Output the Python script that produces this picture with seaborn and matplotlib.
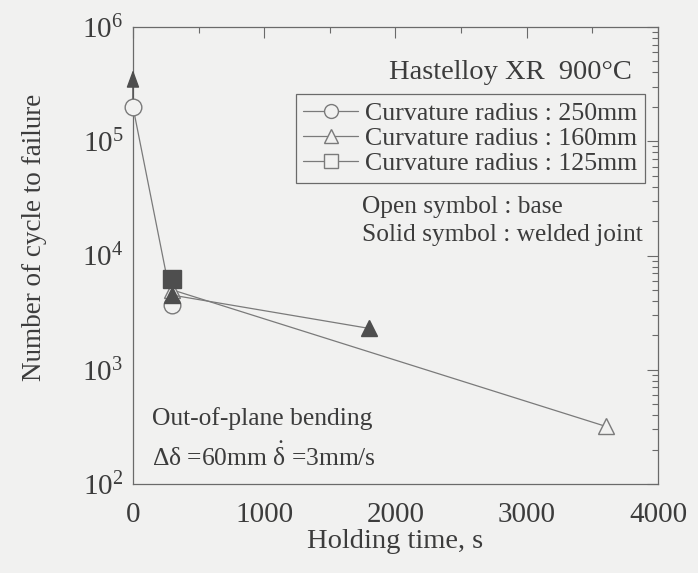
import numpy as np
import pandas as pd
import seaborn as sns
import matplotlib
matplotlib.use("Agg")
import matplotlib.pyplot as plt
from matplotlib.lines import Line2D
from matplotlib.ticker import LogLocator, LogFormatterMathtext, MultipleLocator, NullFormatter

# Fatigue life vs. holding time, Hastelloy XR at 900 C
r250_base_t = [0, 300]
r250_base_n = [2.0e5, 3.7e3]

r160_base_t = [300, 3600]
r160_base_n = [5.0e3, 3.2e2]

r160_weld_t = [300, 1800]
r160_weld_n = [4.5e3, 2.3e3]

r125_weld_t = [300]
r125_weld_n = [6.2e3]

# run-out (no failure) specimen, 160 mm welded joint
runout_t = [0]
runout_n = [2.0e5]
runout_tip_n = [4.2e5]

legend_labels = ["Curvature radius : 250mm",
                 "Curvature radius : 160mm",
                 "Curvature radius : 125mm"]

sns.set_theme(style="white")
plt.rcParams["font.family"] = ["Liberation Serif", "DejaVu Serif"]
plt.rcParams["mathtext.fontset"] = "custom"
plt.rcParams["mathtext.rm"] = "Liberation Serif"
plt.rcParams["mathtext.it"] = "Liberation Serif"
plt.rcParams["mathtext.default"] = "regular"

BG = "#f1f1f0"
INK = "#3c3c3c"
LINE = "#7a7a7a"
FILL = "#4e4e4e"

fig = plt.figure(figsize=(6.98, 5.73), dpi=100, facecolor=BG)
ax = fig.add_axes([0.1905, 0.1553, 0.7522, 0.7976], facecolor=BG)

ms = 12
lw = 0.9

def series(t, n, marker, filled, size=ms):
    df = pd.DataFrame({"t": t, "n": n})
    sns.lineplot(data=df, x="t", y="n", ax=ax, color=LINE, linewidth=lw,
                 marker=marker, markersize=size,
                 markerfacecolor=FILL if filled else BG,
                 markeredgecolor=FILL if filled else LINE,
                 markeredgewidth=1.0, clip_on=False, zorder=3)

series(r250_base_t, r250_base_n, "o", False)
series(r160_base_t, r160_base_n, "^", False)
series(r160_weld_t, r160_weld_n, "^", True)
series(r125_weld_t, r125_weld_n, "s", True, size=13)

for t, n0, n1 in zip(runout_t, runout_n, runout_tip_n):
    ax.annotate("", xy=(t, n1), xytext=(t, n0),
                arrowprops=dict(arrowstyle="-|>,head_length=0.9,head_width=0.33",
                                color=FILL, lw=1.0, shrinkA=6, shrinkB=0),
                annotation_clip=False, zorder=4)

ax.set_yscale("log")
ax.set_xlim(0, 4000)
ax.set_ylim(1e2, 1e6)

ax.xaxis.set_major_locator(MultipleLocator(1000))
ax.xaxis.set_minor_locator(MultipleLocator(500))
ax.yaxis.set_major_locator(LogLocator(base=10))
ax.yaxis.set_major_formatter(LogFormatterMathtext())
ax.yaxis.set_minor_locator(LogLocator(base=10, subs=np.arange(2, 10)))
ax.yaxis.set_minor_formatter(NullFormatter())

ax.tick_params(which="both", direction="in", top=True, right=True,
               color="#6a6a6a", width=0.8, labelsize=21, labelcolor=INK)
ax.tick_params(which="major", length=8)
ax.tick_params(which="minor", length=4.5)
ax.tick_params(axis="y", which="major", pad=7)
ax.tick_params(axis="x", which="major", pad=13)

for sp in ax.spines.values():
    sp.set_color("#6a6a6a")
    sp.set_linewidth(0.9)

ax.set_xlabel("Holding time, s", fontsize=20.5, color=INK, labelpad=1)
ax.set_ylabel("Number of cycle to failure", fontsize=19.5, color=INK)
ax.yaxis.set_label_coords(-0.164, 0.540)

ax.text(0.950, 0.900, "Hastelloy XR  900\u00b0C", transform=ax.transAxes,
        ha="right", va="center", fontsize=20.5, color=INK)

handles = [
    Line2D([], [], color=LINE, lw=lw, marker="o", markersize=10,
           markerfacecolor=BG, markeredgecolor=LINE),
    Line2D([], [], color=LINE, lw=lw, marker="^", markersize=10,
           markerfacecolor=BG, markeredgecolor=LINE),
    Line2D([], [], color=LINE, lw=lw, marker="s", markersize=10,
           markerfacecolor=BG, markeredgecolor=LINE),
]
leg = ax.legend(handles, legend_labels, loc="upper left",
                bbox_to_anchor=(0.310, 0.853), borderaxespad=0,
                fontsize=18.6, frameon=True, fancybox=False, framealpha=1,
                handlelength=2.1, handletextpad=0.28, labelspacing=0.08,
                borderpad=0.3)
leg.get_frame().set_edgecolor("#6a6a6a")
leg.get_frame().set_facecolor(BG)
leg.get_frame().set_linewidth(0.9)
for txt in leg.get_texts():
    txt.set_color(INK)

ax.text(0.436, 0.606, "Open symbol : base", transform=ax.transAxes,
        ha="left", va="center", fontsize=18.3, color=INK)
ax.text(0.436, 0.545, "Solid symbol : welded joint", transform=ax.transAxes,
        ha="left", va="center", fontsize=18.3, color=INK)

ax.text(0.036, 0.144, "Out-of-plane bending", transform=ax.transAxes,
        ha="left", va="center", fontsize=18.4, color=INK)
ax.text(0.036, 0.059, "\u0394\u03b4 =60mm $\\dot{\\delta}$ =3mm/s", transform=ax.transAxes,
        ha="left", va="center", fontsize=18.4, color=INK)

fig.savefig("out.png", dpi=100, facecolor=BG)
